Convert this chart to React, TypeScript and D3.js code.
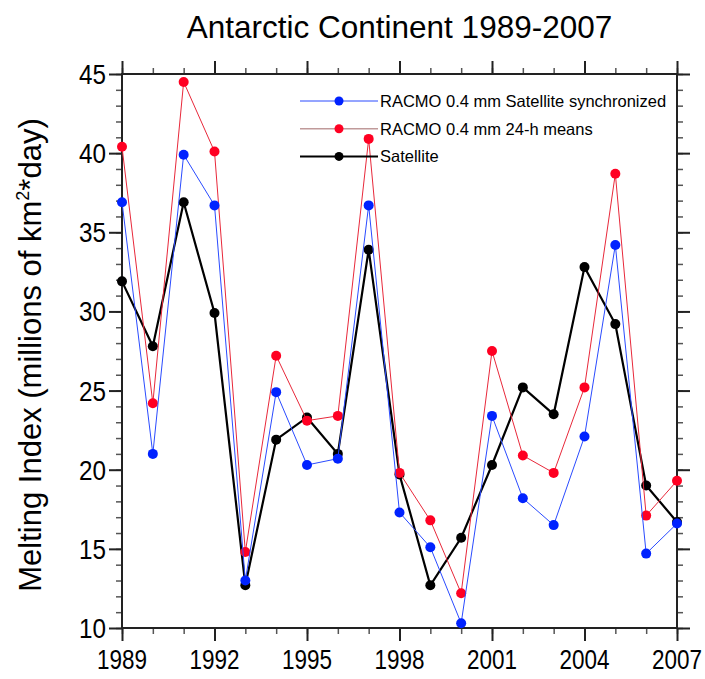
import React, { useEffect, useRef } from "react";
import * as d3 from "d3";

const years = [1989, 1990, 1991, 1992, 1993, 1994, 1995, 1996, 1997, 1998, 1999, 2000, 2001, 2002, 2003, 2004, 2005, 2006, 2007];
const racmoSync = [36.9, 21.0, 39.9, 36.7, 13.0, 24.9, 20.3, 20.7, 36.7, 17.3, 15.1, 10.3, 23.4, 18.2, 16.5, 22.1, 34.2, 14.7, 16.6];
const racmo24h = [40.4, 24.2, 44.5, 40.1, 14.8, 27.2, 23.1, 23.4, 40.9, 19.8, 16.8, 12.2, 27.5, 20.9, 19.8, 25.2, 38.7, 17.1, 19.3];
const satellite = [31.9, 27.8, 36.9, 29.9, 12.7, 21.9, 23.3, 21.0, 33.9, 19.7, 12.7, 15.7, 20.3, 25.2, 23.5, 32.8, 29.2, 19.0, 16.7];
const xTicks = [1989, 1992, 1995, 1998, 2001, 2004, 2007];
const yTicks = [10, 15, 20, 25, 30, 35, 40, 45];
const legendLabels = ["RACMO 0.4 mm Satellite synchronized", "RACMO 0.4 mm 24-h means", "Satellite"];

const W = 705, H = 679;
const m = { left: 122, right: 28, top: 74, bottom: 51 };
const FONT = "'Liberation Sans', Arial, Helvetica, sans-serif";

const App = () => {
  const ref = useRef(null);

  useEffect(() => {
    const svg = d3.select(ref.current);
    svg.selectAll("*").remove();

    const x = d3.scaleLinear().domain([1989, 2007]).range([m.left, W - m.right]);
    const y = d3.scaleLinear().domain([10, 45]).range([H - m.bottom, m.top]);
    const minorX = d3.range(1989, 2008);
    const minorY = d3.range(10, 46);

    // minor ticks on all four sides
    const drawAxis = (axisFn, scale, tr, ticks, size, w, col) => {
      const g = svg.append("g").attr("transform", tr)
        .call(axisFn(scale).tickValues(ticks).tickSize(size).tickSizeOuter(0).tickFormat(() => ""));
      g.select(".domain").remove();
      g.selectAll("line").attr("stroke", col).attr("stroke-width", w);
      return g;
    };
    const bottomY = H - m.bottom, rightX = W - m.right;
    drawAxis(d3.axisBottom, x, `translate(0,${bottomY})`, minorX, 6, 1.5, "#555");
    drawAxis(d3.axisTop, x, `translate(0,${m.top})`, minorX, 6, 1.5, "#555");
    drawAxis(d3.axisLeft, y, `translate(${m.left},0)`, minorY, 6, 1.5, "#555");
    drawAxis(d3.axisRight, y, `translate(${rightX},0)`, minorY, 6, 1.5, "#555");
    drawAxis(d3.axisBottom, x, `translate(0,${bottomY})`, xTicks, 13, 2, "#222");
    drawAxis(d3.axisTop, x, `translate(0,${m.top})`, xTicks, 13, 2, "#222");
    drawAxis(d3.axisLeft, y, `translate(${m.left},0)`, yTicks, 13, 2, "#222");
    drawAxis(d3.axisRight, y, `translate(${rightX},0)`, yTicks, 13, 2, "#222");

    svg.append("rect")
      .attr("x", m.left).attr("y", m.top)
      .attr("width", rightX - m.left).attr("height", bottomY - m.top)
      .attr("fill", "none").attr("stroke", "#222").attr("stroke-width", 2);

    // tick labels
    svg.append("g").selectAll("text").data(xTicks).join("text")
      .attr("x", d => x(d)).attr("y", bottomY + 41)
      .attr("text-anchor", "middle")
      .attr("font-family", FONT).attr("font-size", 28)
      .attr("textLength", 50).attr("lengthAdjust", "spacingAndGlyphs")
      .text(d => d);
    svg.append("g").selectAll("text").data(yTicks).join("text")
      .attr("x", m.left - 16).attr("y", d => y(d) + 10)
      .attr("text-anchor", "end")
      .attr("font-family", FONT).attr("font-size", 28)
      .attr("textLength", 27).attr("lengthAdjust", "spacingAndGlyphs")
      .text(d => d);

    // series
    const series = [
      { vals: satellite, color: "#000000", line: "#000000", lw: 2.2 },
      { vals: racmo24h, color: "#ff0022", line: "#e8283a", lw: 1 },
      { vals: racmoSync, color: "#0022ff", line: "#2a4bff", lw: 1 },
    ];
    const line = d3.line().x(d => x(d[0])).y(d => y(d[1]));
    series.forEach(s => {
      const pts = years.map((yr, i) => [yr, s.vals[i]]);
      svg.append("path").datum(pts)
        .attr("d", line).attr("fill", "none")
        .attr("stroke", s.line).attr("stroke-width", s.lw);
      svg.append("g").selectAll("circle").data(pts).join("circle")
        .attr("cx", d => x(d[0])).attr("cy", d => y(d[1])).attr("r", 5)
        .attr("fill", s.color);
    });

    // legend
    const legend = [
      { label: legendLabels[0], color: "#0022ff", line: "#2a4bff", lw: 1 },
      { label: legendLabels[1], color: "#ff0022", line: "#c09a9a", lw: 1.5 },
      { label: legendLabels[2], color: "#000000", line: "#000000", lw: 2 },
    ];
    legend.forEach((l, i) => {
      const ly = 101 + i * 27.7;
      const g = svg.append("g");
      g.append("line").attr("x1", 300).attr("x2", 378).attr("y1", ly).attr("y2", ly)
        .attr("stroke", l.line).attr("stroke-width", l.lw);
      g.append("circle").attr("cx", 339).attr("cy", ly).attr("r", 4.5).attr("fill", l.color);
      g.append("text").attr("x", 380).attr("y", ly + 6)
        .attr("font-family", FONT).attr("font-size", 16.5)
        .text(l.label);
    });

    // title
    svg.append("text")
      .attr("x", (m.left + rightX) / 2).attr("y", 38)
      .attr("text-anchor", "middle")
      .attr("font-family", FONT).attr("font-size", 31.5)
      .text("Antarctic Continent 1989-2007");

    // y axis title
    const yt = svg.append("text")
      .attr("transform", `translate(41,${(m.top + bottomY) / 2 + 4}) rotate(-90)`)
      .attr("text-anchor", "middle")
      .attr("font-family", FONT).attr("font-size", 31);
    yt.append("tspan").text("Melting Index (millions of km");
    yt.append("tspan").attr("font-size", 18).attr("dy", -12).text("2");
    yt.append("tspan").attr("dy", 12).text("*day)");
  }, []);

  return (
    <svg ref={ref} width={W} height={H}
      style={{ position: "absolute", left: 0, top: 0, background: "#fff" }} />
  );
};

export default App;
